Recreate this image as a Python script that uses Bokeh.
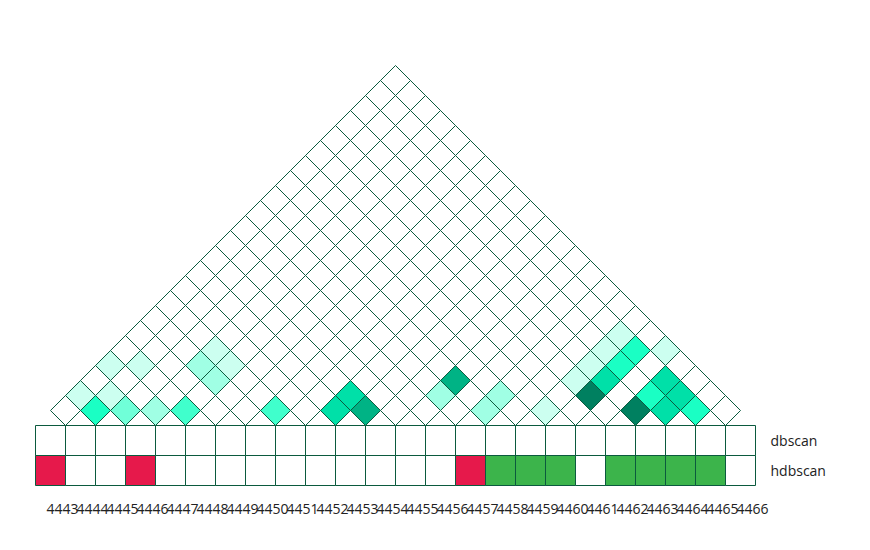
from bokeh.plotting import figure
from bokeh.models import Range1d, ColumnDataSource
from bokeh.embed import file_html
from bokeh.resources import INLINE
from bokeh.core.properties import value

# ---- data ----
positions = [str(v) for v in range(4443, 4467)]
row_names = ["dbscan", "hdbscan"]
dbscan_cluster = [0] * 24
hdbscan_cluster = [1, 0, 0, 1, 0, 0, 0, 0, 0, 0, 0, 0, 0, 0, 1, 2, 2, 2, 0, 2, 2, 2, 2, 0]
cluster_colors = {0: "#ffffff", 1: "#e6194b", 2: "#3cb44b"}

# pairwise matrix: non-zero cells (i, j, level); all other pairs are level 0
pair_i = [1, 2, 3, 4, 7, 0, 1, 0, 1, 3, 4, 4, 3,
          9, 9, 10, 12, 12, 14, 14, 16,
          17, 19, 17, 17, 17, 16, 16, 16, 16, 18, 19, 19, 20, 20, 21]
pair_j = [2, 3, 4, 5, 8, 2, 3, 4, 5, 7, 7, 8, 8,
          10, 11, 11, 15, 14, 15, 16, 17,
          19, 20, 20, 21, 22, 19, 20, 21, 22, 23, 21, 22, 22, 21, 22]
pair_level = [5, 3, 2, 4, 4, 1, 1, 1, 1, 2, 2, 1, 1,
              6, 6, 7, 7, 2, 2, 2, 1,
              8, 8, 6, 5, 5, 1, 1, 1, 1, 1, 5, 6, 6, 6, 5]
level_colors = ["#ffffff", "#ccfff0", "#a0ffe4", "#70ffd8", "#40ffcc",
                "#1affc4", "#00e0a8", "#00b385", "#008060"]

LINE = "#0b5a3e"
n = len(positions)

p = figure(width=870, height=550,
           x_range=Range1d(-50 / 30, 820 / 30), y_range=Range1d(-110 / 30, 440 / 30),
           toolbar_location=None, output_backend="svg",
           x_axis_location=None, y_axis_location=None, min_border=0)
p.grid.visible = False
p.outline_line_color = None

# ---- triangle of diamonds ----
lev = {(a, b): l for a, b, l in zip(pair_i, pair_j, pair_level)}
xs, ys, cols = [], [], []
for i in range(n):
    for j in range(i + 1, n):
        cx = (i + j) / 2
        cy = 0.5 + 0.5 * (j - i)
        xs.append([cx - 0.5, cx, cx + 0.5, cx])
        ys.append([cy, cy + 0.5, cy, cy - 0.5])
        cols.append(level_colors[lev.get((i, j), 0)])
p.patches(xs=xs, ys=ys, fill_color=cols, line_color=LINE, line_width=1)

# ---- cluster rows ----
bx, by, bc = [], [], []
for r, row in enumerate([dbscan_cluster, hdbscan_cluster]):
    for i, c in enumerate(row):
        bx.append(i)
        by.append(-r)
        bc.append(cluster_colors[c])
p.rect(x=bx, y=by, width=1, height=1, fill_color=bc, line_color=LINE, line_width=1)

# row names
p.text(x=[n, n], y=[0, -1], text=row_names, text_font=value("Open Sans"),
       text_font_size="14px", text_align="left", text_baseline="middle",
       text_color="#222222")

# position labels
p.text(x=list(range(n)), y=[-2.27] * n, text=positions, text_font=value("Open Sans"),
       text_font_size="14px", text_align="left", text_baseline="middle",
       x_offset=-4, text_color="#222222")

open("out.html", "w").write(file_html(p, INLINE))
